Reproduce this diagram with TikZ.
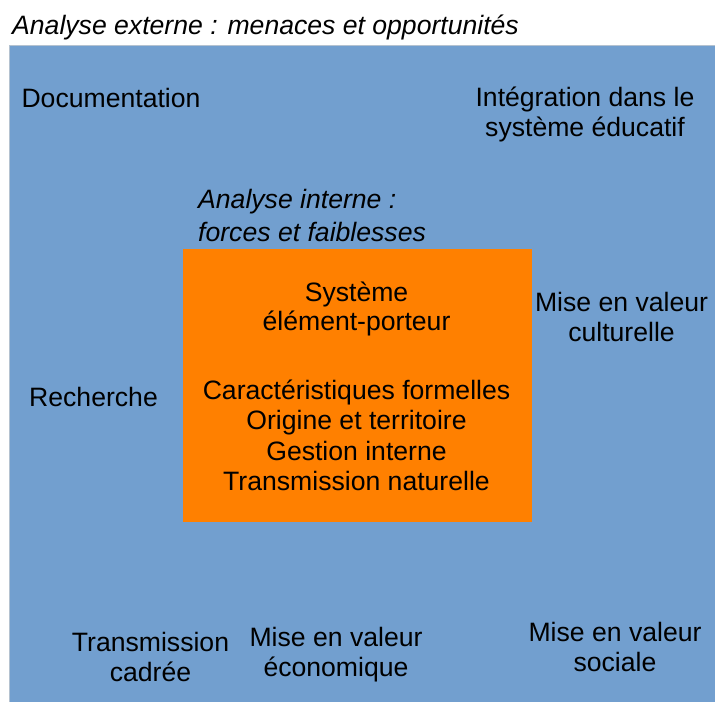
\documentclass[tikz,border=0pt]{standalone}
\usepackage{fontspec}
\setmainfont{Liberation Sans}
\definecolor{extblue}{HTML}{729FCF}
\definecolor{intorange}{HTML}{FF8000}
\definecolor{edgegrey}{HTML}{B4C2D0}
\tikzset{
  lbl/.style={font=\fontsize{26.6}{30}\selectfont, align=center, inner sep=0pt, anchor=base},
  lblit/.style={font=\fontsize{26.6}{30}\selectfont\itshape, align=left, inner sep=0pt, anchor=base west},
}
\begin{document}
\begin{tikzpicture}[x=1pt,y=-1pt]
\useasboundingbox (0,0) rectangle (715,702);
\fill[white] (0,0) rectangle (715,702);
\fill[extblue] (9,45) rectangle (715,702);
\draw[edgegrey, line width=1.2pt] (9.6,702) -- (9.6,45.6) -- (715,45.6);
\fill[intorange] (183,249) rectangle (532,522);
\node[lblit] (title) at (12,34) {Analyse externe : menaces et opportunités};
\node[lbl] (doc) at (111,107.5) {Documentation};
\node[lbl] (integ) at (585,136.5) {Intégration dans le\\système éducatif};
\node[lblit] (interne) at (198,241) {Analyse interne :\\[3pt]forces et faiblesses};
\node[lbl] (cult) at (621.5,341.7) {Mise en valeur\\culturelle};
\node[lbl] (rech) at (93.5,406) {Recherche};
\node[lbl] (sys) at (356.5,330.5) {Système\\[-1pt]élément-porteur};
\node[lbl] (carac) at (356.5,490.5) {Caractéristiques formelles\\[0.5pt]Origine et territoire\\[0.5pt]Gestion interne\\[0.5pt]Transmission naturelle};
\node[lbl] (cadree) at (150.5,681.7) {Transmission\\cadrée};
\node[lbl] (eco) at (336,676.7) {Mise en valeur\\économique};
\node[lbl] (soc) at (615,671) {Mise en valeur\\sociale};
\end{tikzpicture}
\end{document}
